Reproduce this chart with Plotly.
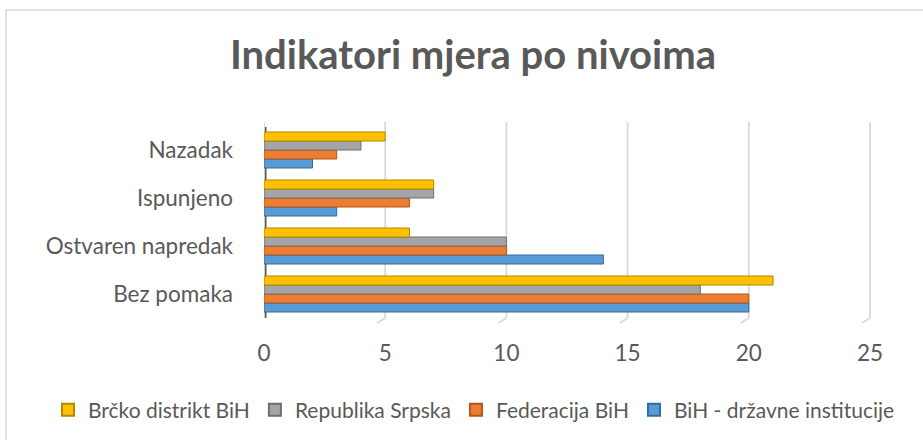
import plotly.graph_objects as go

categories = ["Bez pomaka", "Ostvaren napredak", "Ispunjeno", "Nazadak"]
series_names = ["BiH - državne institucije", "Federacija BiH", "Republika Srpska", "Brčko distrikt BiH"]
bih_drzavne = [20, 14, 3, 2]
federacija = [20, 10, 6, 3]
republika_srpska = [18, 10, 7, 4]
brcko = [21, 6, 7, 5]
x_ticks = [0, 5, 10, 15, 20, 25]

colors = ["#5B9BD5", "#ED7D31", "#A5A5A5", "#FFC000"]
edge_colors = ["#2E6DA4", "#B5561A", "#6E6E6E", "#B38600"]
values = [bih_drzavne, federacija, republika_srpska, brcko]

FONT = "Lato"
FS = 22.5

fig = go.Figure()
for name, vals, c, ec in zip(series_names, values, colors, edge_colors):
    fig.add_trace(go.Bar(
        y=categories, x=vals, name=name, orientation="h",
        marker=dict(color=c, line=dict(color=ec, width=1)),
    ))

W, H = 923, 440
# visible axis: 0 at x=264px, 25 at x=870px; plot area extended to the right edge
L, R, T, B = 264, 0, 126, 122
pw, ph = W - L - R, H - T - B
unit_px = (870 - 264) / 25
x_max = pw / unit_px

def px(xp):
    return (xp - L) / pw

def py(yp):
    return (H - B - yp) / ph

shapes = [
    dict(type="rect", xref="paper", yref="paper",
         x0=px(6), x1=px(940), y0=py(460), y1=py(10),
         line=dict(color="#D9D9D9", width=1.5), fillcolor="rgba(0,0,0,0)", layer="below"),
    dict(type="line", xref="x", yref="paper", x0=0, x1=0, y0=py(318), y1=py(127),
         line=dict(color="#595959", width=5), layer="below"),
]
for t in x_ticks:
    shapes.append(dict(type="line", xref="x", yref="paper", x0=t, x1=t,
                       y0=py(318), y1=py(122),
                       line=dict(color="#D9D9D9", width=1.8), layer="below"))
    shapes.append(dict(type="line", xref="x", yref="paper", xsizemode="pixel", xanchor=t,
                       x0=0, x1=-8, y0=py(318), y1=py(323),
                       line=dict(color="#D9D9D9", width=1.8), layer="below"))

fig.update_layout(
    width=W, height=H,
    margin=dict(l=L, r=R, t=T, b=B),
    paper_bgcolor="white", plot_bgcolor="white",
    barmode="group", bargap=0.25, bargroupgap=0,
    title=dict(text="<b>Indikatori mjera po nivoima</b>", x=473 / W, xref="container",
               xanchor="center", y=1 - 55 / H, yanchor="middle", yref="container",
               font=dict(family=FONT, size=40, color="#595959")),
    font=dict(family=FONT, color="#595959", size=FS),
    xaxis=dict(range=[0, x_max], tickvals=x_ticks, showgrid=False,
               zeroline=False, showline=False, ticks="",
               ticklabelstandoff=19, tickfont=dict(family=FONT, size=FS, color="#595959")),
    yaxis=dict(categoryorder="array", categoryarray=categories, showgrid=False,
               zeroline=False, showline=False, ticks="", ticklabelstandoff=30,
               tickfont=dict(family=FONT, size=FS, color="#595959")),
    legend=dict(orientation="h", traceorder="reversed",
                x=px(48), xanchor="left", y=py(410), yanchor="middle",
                font=dict(family=FONT, size=21, color="#595959"),
                itemwidth=30, itemsizing="constant", tracegroupgap=0),
    shapes=shapes,
)

fig.write_html("out.html", config={"displayModeBar": False},
               post_script="document.body.style.margin='0';")
